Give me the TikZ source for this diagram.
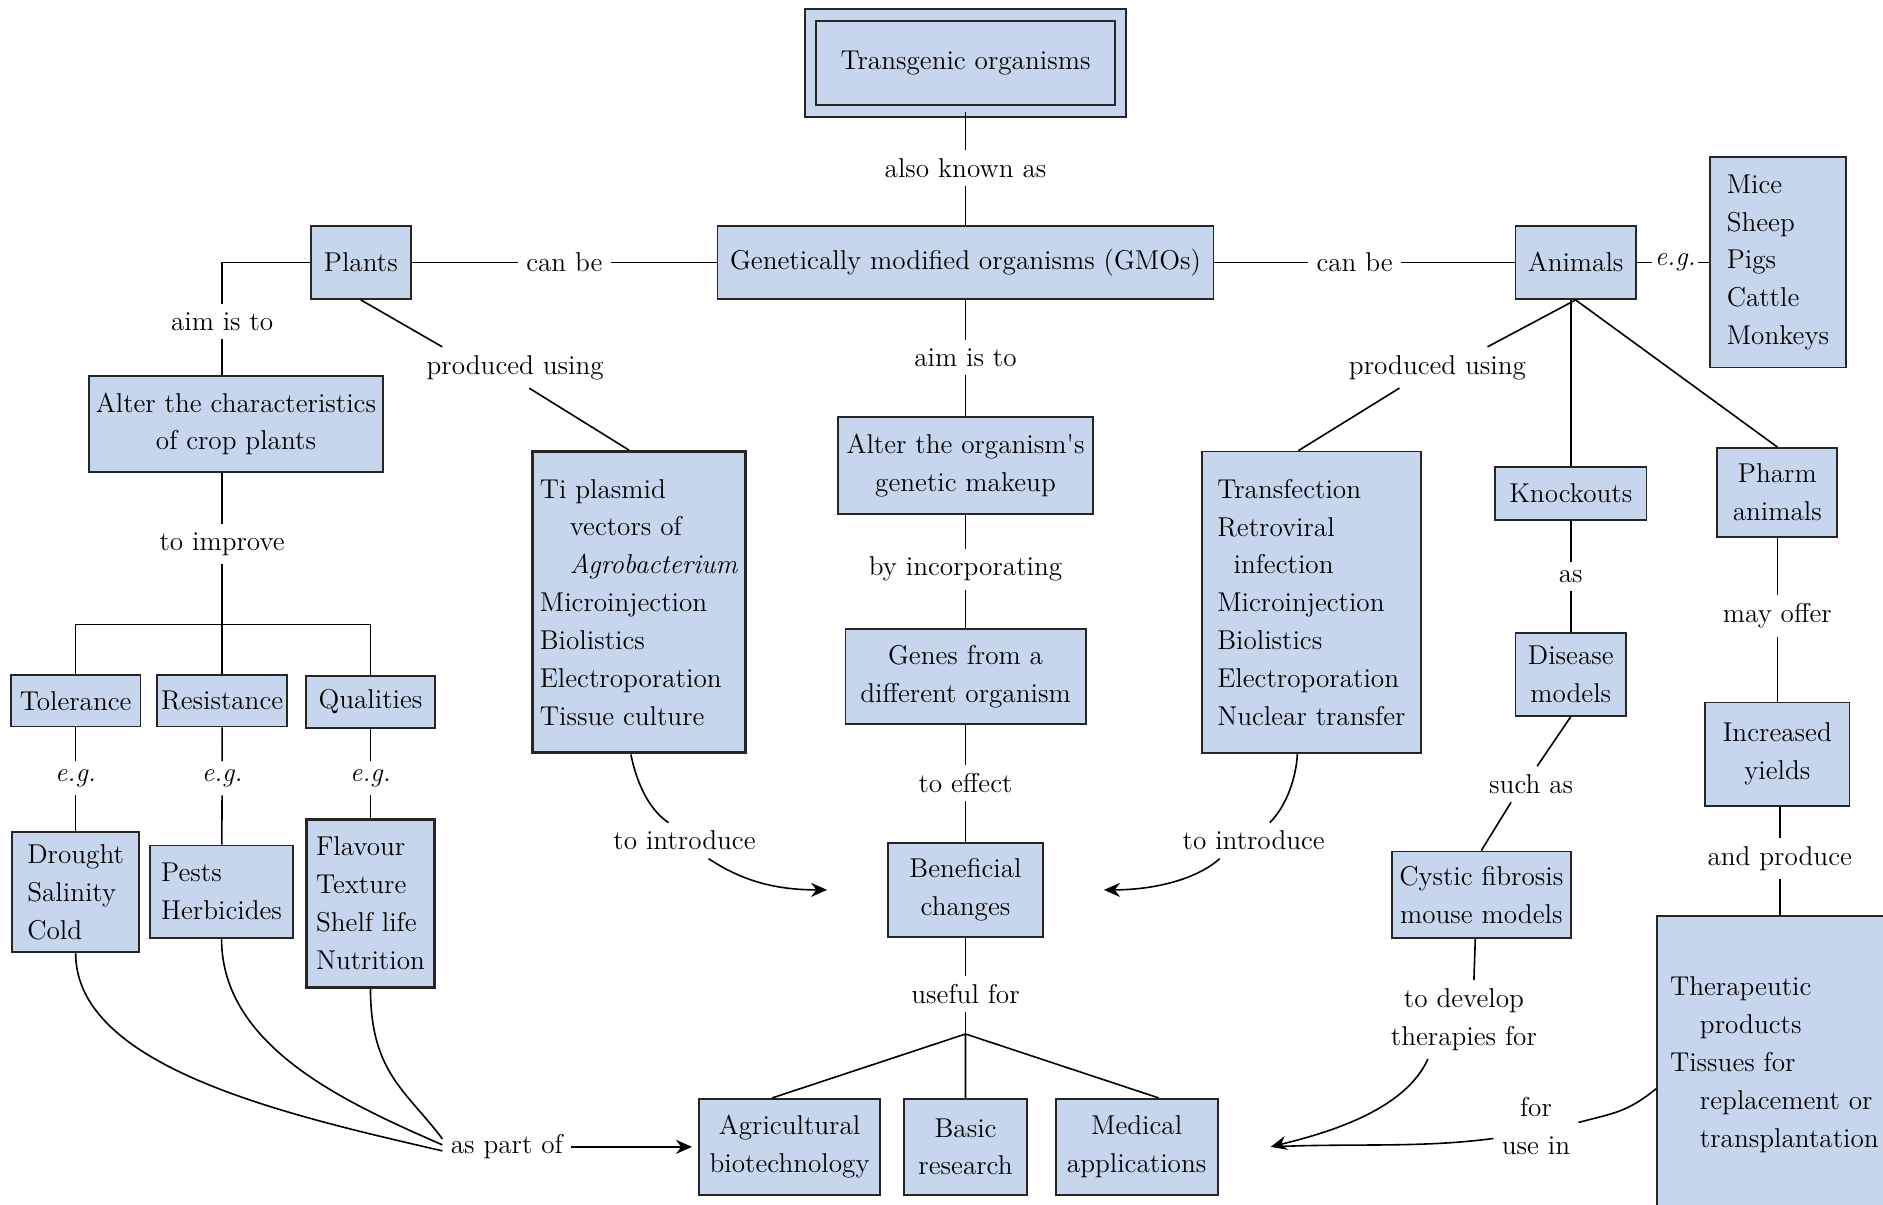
\documentclass[tikz,border=0pt]{standalone}
\usepackage{tikz}
\usetikzlibrary{arrows.meta}
\definecolor{boxblue}{RGB}{198,214,236}
\begin{document}
\begin{tikzpicture}[x=0.6pt,y=-0.6pt,font=\fontsize{13.6}{18.9}\selectfont,
  box/.style={draw=black!85,fill=boxblue,line width=0.9pt,inner sep=0pt,align=center},
  list/.style={box,align=left},
  sz/.style 2 args={minimum width=#1*0.6pt,minimum height=#2*0.6pt},
  lbl/.style={inner sep=4pt},
  link/.style={line width=0.8pt},
  arr/.style={link,-{Stealth[length=8pt,width=7pt]}}]
\useasboundingbox (0,0) rectangle (1568,1003);
\node[box,sz={258}{80},double=boxblue,double distance=4.8pt] (tg) at (804,52.5) {Transgenic organisms};
\node[box,sz={413}{61}] (gmo) at (804,218.5) {Genetically modified organisms (GMOs)};
\node[box,sz={83}{61}] (plants) at (300.5,218.5) {Plants};
\node[box,sz={100}{61}] (animals) at (1312,218.5) {Animals};
\node[list,sz={113}{175}] (mice) at (1480.5,218.5) {Mice\\Sheep\\Pigs\\Cattle\\Monkeys};
\node[box,sz={245}{80}] (crop) at (196.5,353) {Alter the characteristics\\of crop plants};
\node[box,sz={108}{43}] (tol) at (63,583.5) {Tolerance};
\node[box,sz={108}{43}] (res) at (185,583.5) {Resistance};
\node[box,sz={107}{43}] (qual) at (308.5,584.5) {Qualities};
\node[list,sz={106}{100}] (drought) at (63,743) {Drought\\Salinity\\Cold};
\node[list,sz={119}{77}] (pests) at (184.5,742.5) {Pests\\Herbicides};
\node[list,sz={107}{140},line width=1.5pt] (flav) at (308.5,752) {Flavour\\Texture\\Shelf life\\Nutrition};
\node[list,sz={178}{251},line width=1.5pt] (ti) at (532,501.5) {Ti plasmid\\\hspace*{1.1em}vectors of\\\hspace*{1.1em}\textit{Agrobacterium}\\Microinjection\\Biolistics\\Electroporation\\Tissue culture};
\node[box,sz={212}{81}] (alter) at (804,387.5) {Alter the organism\textquotesingle s\\genetic makeup};
\node[box,sz={200}{79}] (genes) at (804,563.5) {Genes from a\\different organism};
\node[box,sz={129}{78}] (benef) at (804,741) {Beneficial\\changes};
\node[box,sz={151}{80}] (agri) at (657.5,955) {Agricultural\\biotechnology};
\node[box,sz={102}{80}] (basic) at (804,955) {Basic\\research};
\node[box,sz={135}{80}] (med) at (946.5,955) {Medical\\applications};
\node[list,sz={182}{251}] (transf) at (1092,501.5) {Transfection\\Retroviral\\\hspace*{0.6em}infection\\Microinjection\\Biolistics\\Electroporation\\Nuclear transfer};
\node[box,sz={126}{44}] (knock) at (1308,411) {Knockouts};
\node[box,sz={92}{69}] (disease) at (1308,561.5) {Disease\\models};
\node[box,sz={149}{72}] (cystic) at (1233.5,745) {Cystic fibrosis\\mouse models};
\node[box,sz={100}{74}] (pharm) at (1480,410) {Pharm\\animals};
\node[box,sz={120}{86}] (yields) at (1480,628) {Increased\\yields};
\node[list,sz={195}{247}] (thera) at (1477.5,886.5) {Therapeutic\\\hspace*{1.1em}products\\Tissues for\\\hspace*{1.1em}replacement or\\\hspace*{1.1em}transplantation};
\node[lbl] (aka) at (804,140) {also known as};
\node[lbl] (canL) at (470,218.5) {can be};
\node[lbl] (canR) at (1128,218.5) {can be};
\node[lbl,inner sep=1pt] (egA) at (1395,218.5) {\textit{e.g.}};
\node[lbl] (aimL) at (185,268) {aim is to};
\node[lbl] (prodL) at (429,306) {produced using};
\node[lbl] (aimC) at (804,298) {aim is to};
\node[lbl] (prodR) at (1197,306) {produced using};
\node[lbl] (impr) at (185,453) {to improve};
\node[lbl] (eg1) at (63,648) {\textit{e.g.}};
\node[lbl] (eg2) at (185,648) {\textit{e.g.}};
\node[lbl] (eg3) at (308.5,648) {\textit{e.g.}};
\node[lbl] (byinc) at (804,474) {by incorporating};
\node[lbl] (effect) at (804,652) {to effect};
\node[lbl] (introL) at (570,700) {to introduce};
\node[lbl] (introR) at (1044,700) {to introduce};
\node[lbl] (useful) at (804,828) {useful for};
\node[lbl] (aspart) at (422,955) {as part of};
\node[lbl] (as) at (1308,480) {as};
\node[lbl] (such) at (1275,653) {such as};
\node[lbl,align=center] (develop) at (1219,849) {to develop\\therapies for};
\node[lbl,align=center] (foruse) at (1279,938) {for\\use in};
\node[lbl] (offer) at (1480,513) {may offer};
\node[lbl] (andprod) at (1482,715) {and produce};
\coordinate (j) at (185,520);
\coordinate (k) at (804,861);
\draw[link] (tg) -- (aka) (aka) -- (gmo);
\draw[link] (plants) -- (canL) (canL) -- (gmo);
\draw[link] (gmo) -- (canR) (canR) -- (animals);
\draw[link] (animals) -- (egA) (egA) -- (mice);
\draw[link] (plants.west) -| (aimL);
\draw[link] (aimL) -- (aimL |- crop.north);
\draw[link] (crop.south -| impr) -- (impr);
\draw[link] (impr) -- (j) (j) -- (res);
\draw[link] (tol) |- (j) -| (qual);
\draw[link] (tol) -- (eg1) (eg1) -- (drought);
\draw[link] (res) -- (eg2) (eg2) -- (pests);
\draw[link] (qual) -- (eg3) (eg3) -- (flav);
\draw[link] (drought.south) .. controls +(0,95) and +(-130,-30) .. ([yshift=-2pt]aspart.west);
\draw[link] (pests.south) .. controls +(0,90) and +(-80,-35) .. ([yshift=1pt]aspart.west);
\draw[link] (flav.south) .. controls +(0,70) and +(-30,-40) .. ([yshift=4pt]aspart.west);
\draw[arr,shorten >=3pt] (aspart) -- (agri);
\draw[link] (plants.south) -- ([xshift=12pt]prodL.north west);
\draw[link] ([xshift=7pt]prodL.south) -- ([xshift=-5pt]ti.north);
\draw[link] ([xshift=-4pt]ti.south) .. controls +(4,20) and +(-18,-12) .. ([xshift=-8pt]introL.north);
\draw[arr] ([xshift=12pt]introL.south) .. controls +(30,20) and +(-40,0) .. ([xshift=-30pt]benef.west);
\draw[link] (gmo) -- (aimC) (aimC) -- (alter);
\draw[link] (alter) -- (byinc) (byinc) -- (genes);
\draw[link] (genes) -- (effect) (effect) -- (benef);
\draw[link] (benef) -- (useful) (useful) -- (k);
\draw[link] (k) -- ([xshift=-8.7pt]agri.north) (k) -- (basic) (k) -- ([xshift=11pt]med.north);
\draw[link] (animals.south) -- ([xshift=25pt]prodR.north);
\draw[link] ([xshift=-19pt]prodR.south) -- ([xshift=-6.5pt]transf.north);
\draw[link] ([xshift=-7pt]transf.south) .. controls +(-1,20) and +(14,-14) .. ([xshift=8pt]introR.north);
\draw[arr] ([xshift=-17pt]introR.south) .. controls +(-20,18) and +(40,0) .. ([xshift=30pt]benef.east);
\draw[link] (animals.south -| knock) -- (knock);
\draw[link] (animals.south) -- (pharm.north);
\draw[link] (knock) -- (as) (as) -- (disease);
\draw[link] (disease.south) -- ([xshift=3pt]such.north);
\draw[link] ([xshift=-10pt]such.south) -- (cystic.north);
\draw[link] ([xshift=-3pt]cystic.south) -- ([xshift=5pt]develop.north);
\draw[arr] ([xshift=-18pt]develop.south) .. controls +(-20,45) and +(40,-10) .. ([xshift=26pt]med.east);
\draw[link] ([yshift=-12pt]thera.west) .. controls +(-25,20) and +(30,-8) .. ([yshift=2pt]foruse.east);
\draw[link,shorten >=4pt] ([yshift=-6pt]foruse.west) .. controls +(-60,8) and +(70,-3) .. ([xshift=26pt]med.east);
\draw[link] (pharm) -- (offer) (offer) -- (yields);
\draw[link] (yields.south -| andprod) -- (andprod) (andprod) -- (andprod |- thera.north);
\end{tikzpicture}
\end{document}
